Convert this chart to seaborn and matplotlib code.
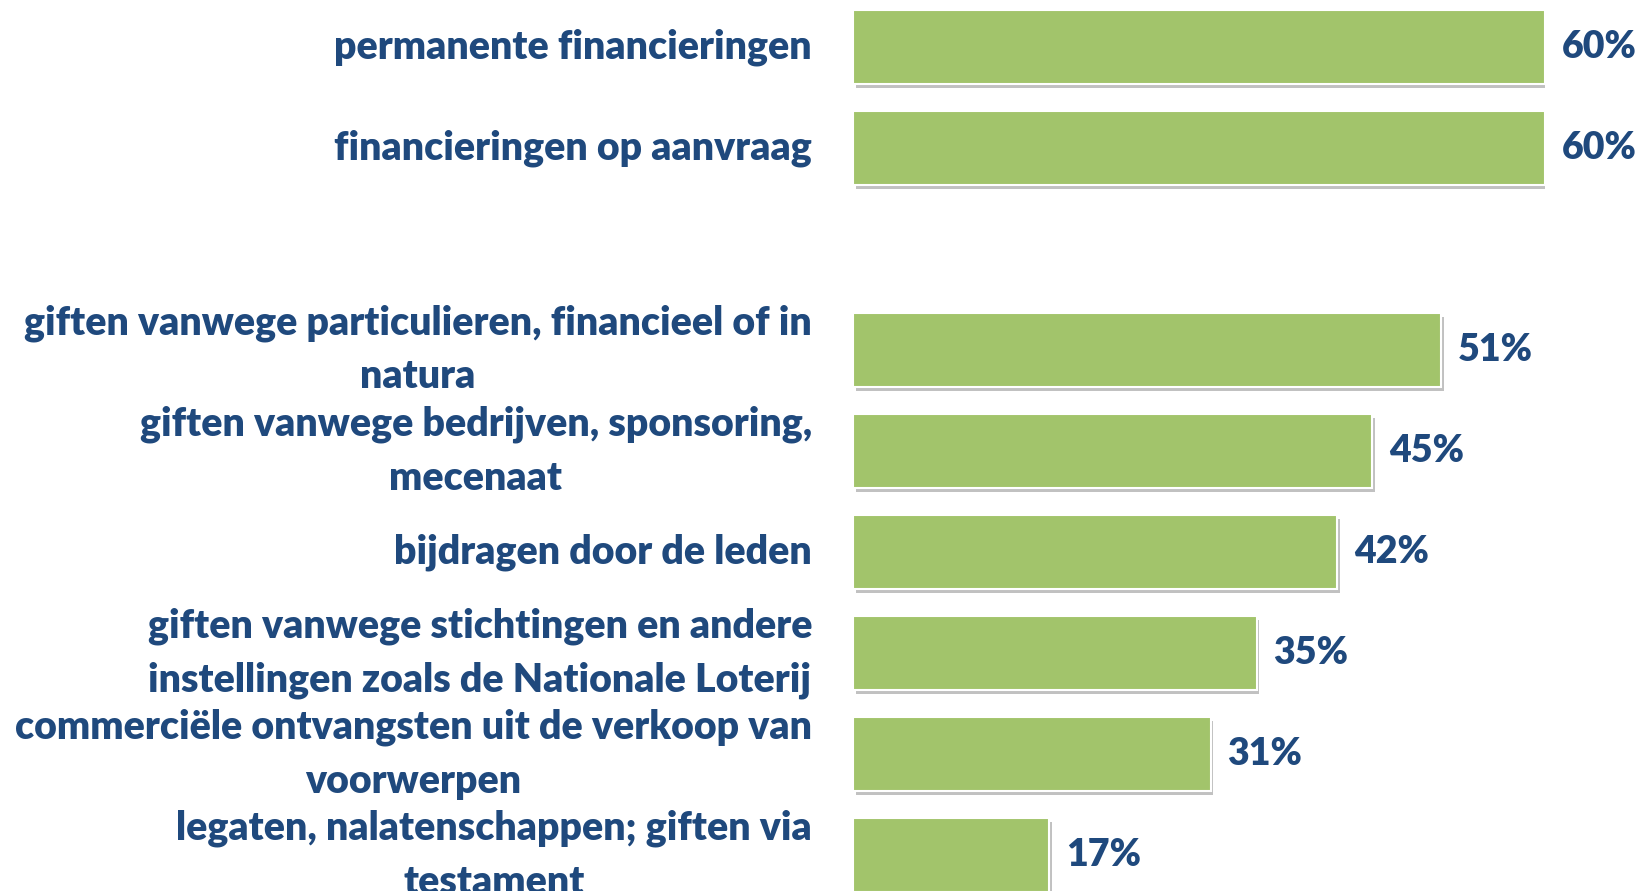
import matplotlib
matplotlib.use("Agg")
import matplotlib.pyplot as plt
import matplotlib.patheffects as pe
import seaborn as sns
import pandas as pd

categories = [
    "permanente financieringen",
    "financieringen op aanvraag",
    " ",
    "giften vanwege particulieren, financieel of in\nnatura",
    "giften vanwege bedrijven, sponsoring,\nmecenaat",
    "bijdragen door de leden",
    "giften vanwege stichtingen en andere\ninstellingen zoals de Nationale Loterij",
    "commerciële ontvangsten uit de verkoop van\nvoorwerpen",
    "legaten, nalatenschappen; giften via\ntestament",
]
values = [60, 60, None, 51, 45, 42, 35, 31, 17]

BAR = "#A2C46B"
TXT = "#1F497D"

sns.set_theme(style="white")
plt.rcParams["font.family"] = ["Lato", "DejaVu Sans"]

df = pd.DataFrame({"cat": categories, "val": values}).dropna()

fig = plt.figure(figsize=(16.39, 8.91), dpi=100)
left = 853 / 1639
right = 1545 / 1639
ax = fig.add_axes([left, 0, right - left, 1])

sns.barplot(data=df, y="cat", x="val", order=categories, color=BAR,
            saturation=1, width=0.73, orient="h", ax=ax,
            edgecolor="white", linewidth=1.5)

for p in ax.patches:
    p.set_path_effects([pe.SimplePatchShadow(offset=(2, -3), shadow_rgbFace="#777777", alpha=0.45),
                        pe.Normal()])

ax.set_xlim(0, 60)
ax.set_ylim(8.356, -0.465)
for c in ax.containers:
    ax.bar_label(c, fmt="{:.0f}%", padding=12, fontsize=27, fontweight="heavy", color=TXT)

ax.set_xlabel("")
ax.set_ylabel("")
ax.set_xticks([])
ax.tick_params(axis="y", length=0, pad=29.5)
for lab in ax.get_yticklabels():
    lab.set_fontsize(28.3)
    lab.set_fontweight("heavy")
    lab.set_color(TXT)
    lab.set_multialignment("center")
    lab.set_linespacing(1.55)
    lab.set_verticalalignment("center")
for s in ax.spines.values():
    s.set_visible(False)
ax.set_facecolor("white")

fig.savefig("out.png", dpi=100, facecolor="white")
